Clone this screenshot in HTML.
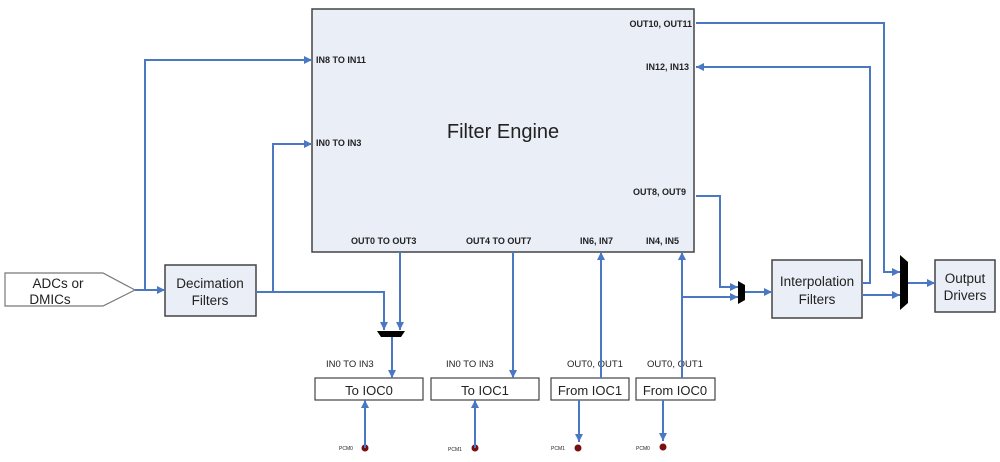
<!DOCTYPE html>
<html><head><meta charset="utf-8"><style>
html,body{margin:0;padding:0;background:#fff;width:1000px;height:462px;overflow:hidden}
text{font-family:"Liberation Sans",sans-serif;fill:#222}
.b{font-size:9px;font-weight:bold}
.m{font-size:13.5px}
</style></head><body>
<svg width="1000" height="462" viewBox="0 0 1000 462" xmlns="http://www.w3.org/2000/svg">
<defs><marker id="a" viewBox="0 0 10 10" refX="10" refY="5" markerWidth="11" markerHeight="8" markerUnits="userSpaceOnUse" orient="auto"><path d="M0,0L10,5L0,10z" fill="#4a78c2"/></marker></defs>
<rect x="312" y="9" width="382" height="243" fill="#e9eef7" stroke="#444" stroke-width="1.5"/>
<text x="503" y="138" text-anchor="middle" style="font-size:20px">Filter Engine</text>
<text class="b" x="316" y="63">IN8 TO IN11</text>
<text class="b" x="316" y="146">IN0 TO IN3</text>
<text class="b" x="692" y="27" text-anchor="end">OUT10, OUT11</text>
<text class="b" x="689" y="70" text-anchor="end">IN12, IN13</text>
<text class="b" x="686" y="195" text-anchor="end">OUT8, OUT9</text>
<text class="b" x="351" y="244">OUT0 TO OUT3</text>
<text class="b" x="466" y="244">OUT4 TO OUT7</text>
<text class="b" x="580" y="244">IN6, IN7</text>
<text class="b" x="646" y="244">IN4, IN5</text>
<polygon points="5,273 103,273 135,290 103,306 5,306" fill="#fff" stroke="#777" stroke-width="1.2"/>
<text class="m" x="58" y="288" text-anchor="middle">ADCs or</text>
<text class="m" x="50" y="304" text-anchor="middle">DMICs</text>
<rect x="165" y="265" width="91" height="51" fill="#e9eef7" stroke="#444" stroke-width="1.5"/>
<text class="m" x="210" y="288" text-anchor="middle">Decimation</text>
<text class="m" x="210" y="305" text-anchor="middle">Filters</text>
<rect x="772" y="260" width="90" height="58" fill="#e9eef7" stroke="#444" stroke-width="1.5"/>
<text class="m" x="817" y="286" text-anchor="middle">Interpolation</text>
<text class="m" x="817" y="304" text-anchor="middle">Filters</text>
<rect x="935" y="260" width="60" height="52" fill="#e9eef7" stroke="#444" stroke-width="1.5"/>
<text class="m" x="965" y="283" text-anchor="middle">Output</text>
<text class="m" x="965" y="300" text-anchor="middle">Drivers</text>
<g fill="#fff" stroke="#444" stroke-width="1.2">
<rect x="315" y="378" width="108" height="22"/><rect x="431" y="378" width="108" height="22"/>
<rect x="551" y="378" width="78" height="22"/><rect x="636" y="378" width="79" height="22"/></g>
<text x="369" y="395" text-anchor="middle" style="font-size:13px">To IOC0</text>
<text x="485" y="395" text-anchor="middle" style="font-size:13px">To IOC1</text>
<text x="590" y="395" text-anchor="middle" style="font-size:13px">From IOC1</text>
<text x="675" y="395" text-anchor="middle" style="font-size:13px">From IOC0</text>
<g style="font-size:9.5px"><text x="326" y="367">IN0 TO IN3</text><text x="446" y="367">IN0 TO IN3</text>
<text x="567" y="367">OUT0, OUT1</text><text x="647" y="367">OUT0, OUT1</text></g>
<g style="font-size:5px"><text x="339" y="450">PCM0</text><text x="448" y="451">PCM1</text><text x="551" y="450">PCM1</text><text x="636" y="450">PCM0</text></g>
<g fill="#7a0f0f"><circle cx="365" cy="448" r="3.5"/><circle cx="475" cy="448" r="3.5"/><circle cx="578" cy="448" r="3.5"/><circle cx="663" cy="447" r="3.5"/></g>
<g fill="none" stroke="#4a78c2" stroke-width="2">
<path d="M135,290H165" marker-end="url(#a)"/>
<path d="M145,290V60H312" marker-end="url(#a)"/>
<path d="M256,292H273V144H312" marker-end="url(#a)"/>
<path d="M256,292H384V330" marker-end="url(#a)"/>
<path d="M400,252V330" marker-end="url(#a)"/>
<path d="M392,337V378" marker-end="url(#a)"/>
<path d="M513,252V378" marker-end="url(#a)"/>
<path d="M601,378V252" marker-end="url(#a)"/>
<path d="M682,378V252" marker-end="url(#a)"/>
<path d="M682,297H738" marker-end="url(#a)"/>
<path d="M696,196H720V287H738" marker-end="url(#a)"/>
<path d="M745,292H772" marker-end="url(#a)"/>
<path d="M862,283H870V67H696" marker-end="url(#a)"/>
<path d="M696,23H884V272H900" marker-end="url(#a)"/>
<path d="M862,295H900" marker-end="url(#a)"/>
<path d="M908,283H935" marker-end="url(#a)"/>
<path d="M365,448V400" marker-end="url(#a)"/>
<path d="M475,448V400" marker-end="url(#a)"/>
<path d="M579,400V442" marker-end="url(#a)"/>
<path d="M663,400V441" marker-end="url(#a)"/>
</g>
<polygon points="377,331 405,331 401,337 381,337" fill="#000"/>
<polygon points="738,281 745,285 745,300 738,304" fill="#000"/>
<polygon points="900,255 908,262 908,303 900,310" fill="#000"/>
</svg>
</body></html>
